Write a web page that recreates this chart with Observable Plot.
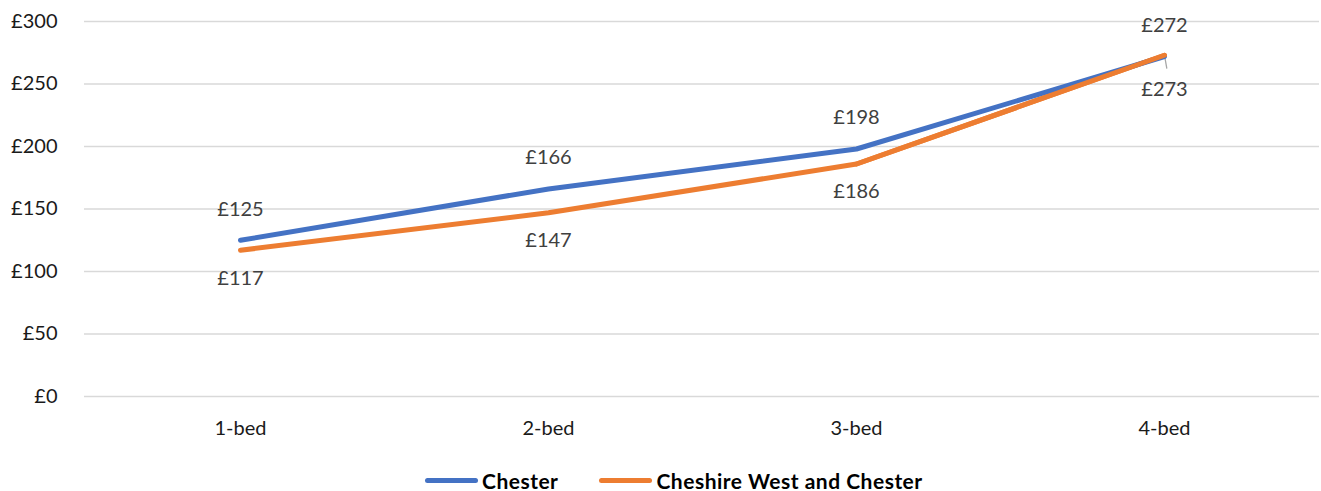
<!DOCTYPE html>
<html><head><meta charset="utf-8">
<script src="https://cdn.jsdelivr.net/npm/d3@7"></script>
<script src="https://cdn.jsdelivr.net/npm/@observablehq/plot@0.6"></script>
<style>
body{margin:0;background:#fff;font-family:Lato,"Open Sans",sans-serif;}
#legend{display:flex;align-items:center;height:41px;padding-top:10px;padding-left:425px;font-weight:bold;font-size:21px;letter-spacing:0.5px;color:#000;}
.sw{display:inline-block;width:53px;height:5px;border-radius:3px;margin-right:4px;}
.item{display:flex;align-items:center;margin-right:41px;}
</style></head>
<body>
<div id="chart"></div>
<div id="legend"></div>
<script>
const categories = ["1-bed","2-bed","3-bed","4-bed"];
const chester = [125,166,198,272];
const cwac = [117,147,186,273];
const yTicks = [0,50,100,150,200,250,300];
const seriesNames = ["Chester","Cheshire West and Chester"];
const colors = ["#4472C4","#ED7D31"];

const rowsA = categories.map((c,i)=>({cat:c, v:chester[i]}));
const rowsB = categories.map((c,i)=>({cat:c, v:cwac[i]}));

const plot = Plot.plot({
  width:1321, height:450,
  marginLeft:84, marginRight:2, marginTop:21, marginBottom:54,
  style:{fontFamily:"Lato, 'Open Sans', sans-serif", fontSize:"20px", background:"#fff"},
  x:{type:"point", domain:categories, padding:0.5, label:null},
  y:{domain:[0,300], label:null},
  marks:[
    Plot.gridY(yTicks,{stroke:"#d9d9d9", strokeOpacity:1, strokeWidth:1.3}),
    Plot.axisY({ticks:yTicks, tickSize:0, tickPadding:27, tickFormat:d=>"£"+d, fill:"#1a1a1a", fontSize:20, label:null}),
    Plot.axisX({tickSize:0, tickPadding:24, fill:"#1a1a1a", fontSize:20, label:null}),
    Plot.vector([{cat:"4-bed", v:cwac[3]}],{x:"cat", y:"v", length:13, rotate:170, anchor:"start", stroke:"#a6a6a6", strokeWidth:1.3,
      shape:{draw(ctx,l){ctx.moveTo(0,0);ctx.lineTo(0,-l);}}}),
    Plot.line(rowsB,{x:"cat", y:"v", stroke:colors[1], strokeWidth:5, strokeLinecap:"round", strokeLinejoin:"round"}),
    Plot.line(rowsA,{x:"cat", y:"v", stroke:colors[0], strokeWidth:5, strokeLinecap:"round", strokeLinejoin:"round"}),
    Plot.line(rowsB.slice(2),{x:"cat", y:"v", stroke:colors[1], strokeWidth:5, strokeLinecap:"round", strokeLinejoin:"round"}),
    Plot.text(rowsA,{x:"cat", y:"v", text:d=>"£"+d.v, dy:-31, fill:"#404040", fontSize:20}),
    Plot.text(rowsB.slice(0,3),{x:"cat", y:"v", text:d=>"£"+d.v, fill:"#404040", fontSize:20, dy:28}),
    Plot.text(rowsB.slice(3),{x:"cat", y:"v", text:d=>"£"+d.v, fill:"#404040", fontSize:20, dy:34})
  ]
});
document.getElementById("chart").appendChild(plot);

const lg = document.getElementById("legend");
seriesNames.forEach((n,i)=>{
  const it=document.createElement("div"); it.className="item";
  const sw=document.createElement("span"); sw.className="sw"; sw.style.background=colors[i];
  const t=document.createElement("span"); t.textContent=n;
  it.appendChild(sw); it.appendChild(t); lg.appendChild(it);
});
</script>
</body></html>
